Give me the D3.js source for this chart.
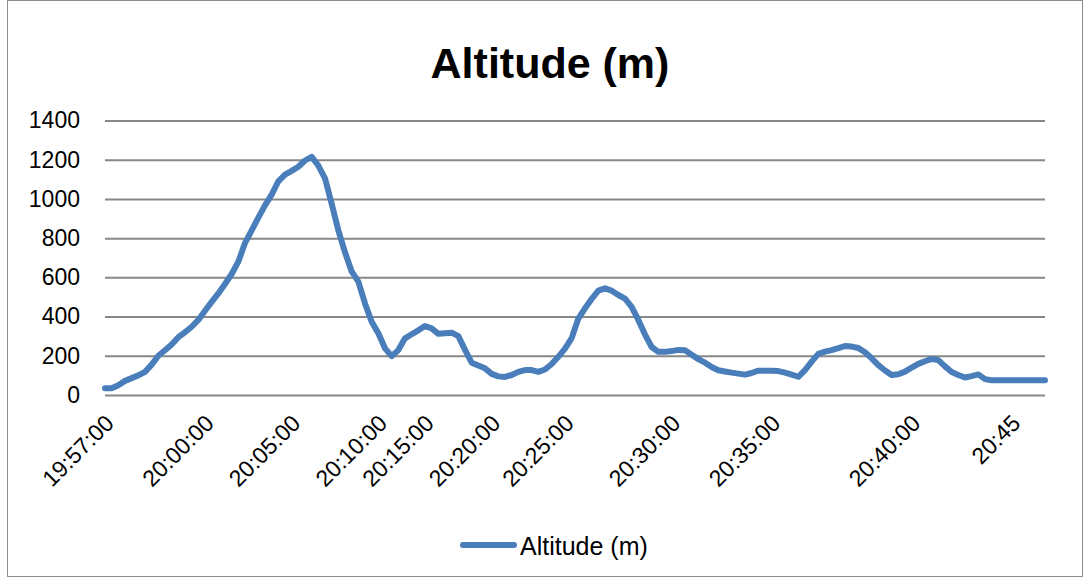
<!DOCTYPE html>
<html><head><meta charset="utf-8">
<script src="https://cdn.jsdelivr.net/npm/d3@7"></script>
<style>html,body{margin:0;padding:0;background:#fff;}svg{display:block;}</style>
</head><body>
<svg id="chart" width="1086" height="578"></svg>
<script>
const altitude = [34,34,50,72,86,100,118,155,200,228,258,295,320,348,383,430,475,518,566,617,
680,775,840,905,967,1022,1090,1124,1143,1164,1196,1215,1170,1105,975,840,728,630,578,467,
374,315,238,198,229,289,310,330,352,340,312,315,318,300,230,165,150,136,108,95,
92,102,118,127,127,118,130,158,195,237,290,390,442,490,532,544,532,510,492,450,
383,308,245,220,220,224,230,228,205,183,165,143,126,120,114,109,104,112,124,124,
124,122,114,104,93,127,170,210,221,229,239,250,247,240,218,187,152,125,102,106,
119,140,159,172,184,178,146,117,102,89,96,105,81,75,75,75,75,75,75,75,75,75];
const tickIndex = [0,15,28,41,48,58,69,85,100,121,136];
const tickLabels = ["19:57:00","20:00:00","20:05:00","20:10:00","20:15:00","20:20:00","20:25:00","20:30:00","20:35:00","20:40:00","20:45"];
const yTicks = [0,200,400,600,800,1000,1200,1400];
const title = "Altitude (m)";
const seriesName = "Altitude (m)";

(function(){
const svg = d3.select("#chart");
const font = "'Liberation Sans', Arial, sans-serif";
const blue = "#4a7ebb";
const pL = 105, pR = 1045, pT = 120.5, pB = 395;

svg.append("rect").attr("x",7.5).attr("y",0.5).attr("width",1075).attr("height",576)
  .attr("fill","#fff").attr("stroke","#8c8c8c").attr("stroke-width",1);

const x = d3.scalePoint().domain(d3.range(altitude.length)).range([pL,pR]);
const y = d3.scaleLinear().domain([0,1400]).range([pB,pT]);

const yAxis = d3.axisLeft(y).tickValues(yTicks).tickSize(-(pR-pL)).tickFormat(d3.format("d")).tickPadding(25);
const gy = svg.append("g").attr("transform",`translate(${pL},0)`).call(yAxis);
gy.select(".domain").remove();
gy.selectAll(".tick line").attr("stroke","#878787").attr("stroke-width",2);
gy.selectAll(".tick text").attr("font-family",font).attr("font-size",23).attr("fill","#000");

const xAxis = d3.axisBottom(x).tickValues(tickIndex).tickFormat(d=>tickLabels[tickIndex.indexOf(d)]).tickSize(0);
const gx = svg.append("g").attr("transform",`translate(0,${pB})`).call(xAxis);
gx.select(".domain").remove();
gx.selectAll(".tick text").attr("font-family",font).attr("font-size",23).attr("fill","#000")
  .attr("text-anchor","end").attr("dy","0.35em").attr("y",0)
  .attr("transform","translate(4,24) rotate(-45)");

const line = d3.line().x((d,i)=>x(i)).y(d=>y(d));
svg.append("path").datum(altitude).attr("d",line).attr("fill","none")
  .attr("stroke",blue).attr("stroke-width",6).attr("stroke-linejoin","round").attr("stroke-linecap","round");

svg.append("text").attr("x",550).attr("y",78).attr("text-anchor","middle")
  .attr("font-family",font).attr("font-weight","bold").attr("font-size",43).text(title);

svg.append("line").attr("x1",463).attr("x2",514).attr("y1",545).attr("y2",545)
  .attr("stroke",blue).attr("stroke-width",6).attr("stroke-linecap","round");
svg.append("text").attr("x",520).attr("y",555).attr("font-family",font).attr("font-size",25).text(seriesName);
})();
</script>
</body></html>
